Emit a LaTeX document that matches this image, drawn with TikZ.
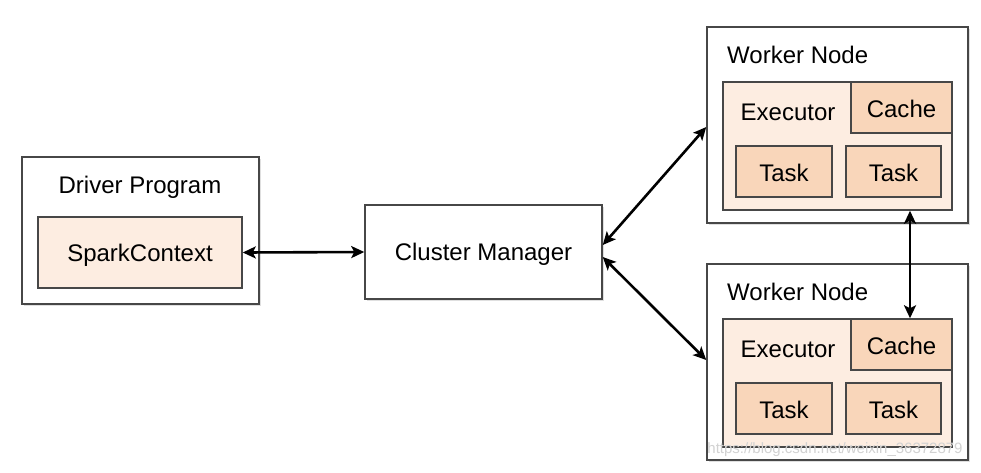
\documentclass[tikz,border=0pt]{standalone}
\usepackage{fontspec}
\setmainfont{Liberation Sans}
\usetikzlibrary{arrows.meta,shadows}
\definecolor{boxline}{HTML}{474747}
\definecolor{lightpeach}{HTML}{FDEDE1}
\definecolor{peach}{HTML}{F9D6BA}
\begin{document}
\begin{tikzpicture}[x=1pt,y=-1pt,
  outerbox/.style={draw=boxline,line width=1.5pt,fill=white,rectangle,inner sep=0pt,
     drop shadow={shadow xshift=1.5pt,shadow yshift=-1.5pt,opacity=0.25}},
  lightbox/.style={draw=boxline,line width=1.5pt,fill=lightpeach,rectangle,inner sep=0pt},
  darkbox/.style={draw=boxline,line width=1.5pt,fill=peach,rectangle,inner sep=0pt},
  lbl/.style={font=\fontsize{24}{28}\selectfont,text=black,inner sep=0pt},
  conn/.style={line width=2.6pt,black,{Stealth[length=13pt,width=12pt,inset=3pt]}-{Stealth[length=13pt,width=12pt,inset=3pt]}}]
\useasboundingbox (0,0) rectangle (981,472);
\fill[white] (0,0) rectangle (981,472);

% Driver
\node[outerbox,minimum width=237pt,minimum height=147pt] (driver) at (140.5,230.5) {};
\node[lbl] (drivert) at (140,187) {Driver Program};
\node[lightbox,minimum width=204pt,minimum height=71pt] (spark) at (140,252.5) {};
\node[lbl] (sparkt) at (140,255) {SparkContext};

% Cluster manager
\node[outerbox,minimum width=237pt,minimum height=94pt] (cm) at (483.5,252) {};
\node[lbl] (cmt) at (483.5,254) {Cluster Manager};

% Worker 1
\node[outerbox,minimum width=261pt,minimum height=196pt] (w1) at (837.5,125) {};
\node[lbl,anchor=west] (w1t) at (727,55) {Worker Node};
\node[lightbox,minimum width=229pt,minimum height=128pt] (exec1) at (837.5,146) {};
\node[darkbox,minimum width=101pt,minimum height=51pt] (cache1) at (901.5,107.5) {};
\node[lbl] (cache1t) at (901.5,109) {Cache};
\node[lbl] (exec1t) at (788,112) {Executor};
\node[darkbox,minimum width=96pt,minimum height=51pt] (task1a) at (784,171.5) {};
\node[lbl] (task1at) at (784,173) {Task};
\node[darkbox,minimum width=95pt,minimum height=51pt] (task1b) at (893.5,171.5) {};
\node[lbl] (task1bt) at (893.5,173) {Task};

% Worker 2
\node[outerbox,minimum width=261pt,minimum height=196pt] (w2) at (837.5,362) {};
\node[lbl,anchor=west] (w2t) at (727,292) {Worker Node};
\node[lightbox,minimum width=229pt,minimum height=128pt] (exec2) at (837.5,383) {};
\node[darkbox,minimum width=101pt,minimum height=51pt] (cache2) at (901.5,344.5) {};
\node[lbl] (cache2t) at (901.5,346) {Cache};
\node[lbl] (exec2t) at (788,349) {Executor};
\node[darkbox,minimum width=96pt,minimum height=51pt] (task2a) at (784,408.5) {};
\node[lbl] (task2at) at (784,410) {Task};
\node[darkbox,minimum width=95pt,minimum height=51pt] (task2b) at (893.5,408.5) {};
\node[lbl] (task2bt) at (893.5,410) {Task};

% Connectors
\draw[conn] (spark.east) -- (cm.west);
\draw[conn] ([yshift=7pt]cm.east) -- ([yshift=-2pt]w1.west);
\draw[conn] ([yshift=-5pt]cm.east) -- ([yshift=2pt]w2.west);
\draw[conn] ([xshift=72.5pt]exec1.south) -- ([xshift=8.5pt]cache2.north);

% Watermark
\node[font=\fontsize{15}{18}\selectfont,text=gray!35,inner sep=0pt] (wm) at (835,450) {https://blog.csdn.net/weixin\_36372879};
\end{tikzpicture}
\end{document}
